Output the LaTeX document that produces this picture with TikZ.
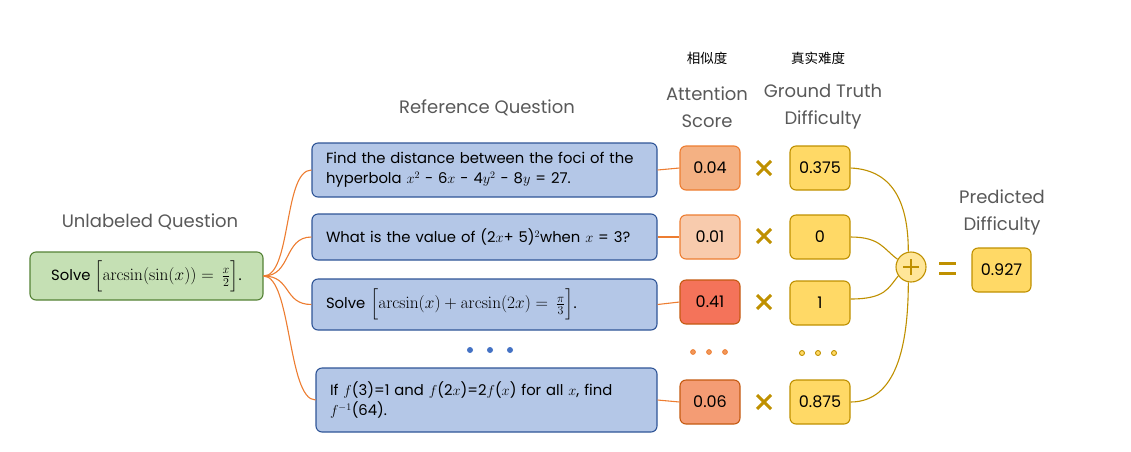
\documentclass[tikz,border=0pt]{standalone}
\usepackage{amsmath}
\usepackage[no-math]{fontspec}
\setmainfont{Poppins}
\newfontfamily\cjk{Noto Sans CJK SC}
\definecolor{bluefill}{HTML}{B4C7E7}
\definecolor{bluebd}{HTML}{2F5597}
\definecolor{bluedot}{HTML}{4472C4}
\definecolor{greenfill}{HTML}{C5E0B4}
\definecolor{greenbd}{HTML}{548235}
\definecolor{orangeln}{HTML}{ED7D31}
\definecolor{orangedk}{HTML}{C55A11}
\definecolor{attA}{HTML}{F4B183}
\definecolor{attB}{HTML}{F8CBAD}
\definecolor{attC}{HTML}{F4735A}
\definecolor{attD}{HTML}{F49C74}
\definecolor{gtfill}{HTML}{FFD966}
\definecolor{gtbd}{HTML}{BF9000}
\definecolor{plusfill}{HTML}{FFE699}
\definecolor{labelgray}{HTML}{595959}
\newcommand{\bigmath}[1]{{\fontsize{16.5}{20}\selectfont$#1$}}
\begin{document}
\begin{tikzpicture}[x=1pt,y=-1pt,
  qbox/.style={rounded corners=6pt, draw=bluebd, fill=bluefill, line width=1.1pt,
    align=left, inner xsep=14pt, inner ysep=0pt, font=\fontsize{14.8}{20}\selectfont},
  gbox/.style={rounded corners=6pt, draw=greenbd, fill=greenfill, line width=1.1pt,
    align=center, minimum width=233pt, minimum height=48pt, inner sep=0pt,
    font=\fontsize{14.8}{20}\selectfont},
  attbox/.style={rounded corners=6pt, draw=orangeln, line width=1.1pt,
    minimum width=60pt, minimum height=44pt, inner sep=0pt, font=\fontsize{16}{18}\selectfont},
  gtbox/.style={rounded corners=6pt, draw=gtbd, fill=gtfill, line width=1.1pt,
    minimum width=60pt, minimum height=44pt, inner sep=0pt, font=\fontsize{16}{18}\selectfont},
  lbl/.style={text=labelgray, font=\fontsize{18}{27}\selectfont, align=center},
  cn/.style={font=\cjk\fontsize{13.5}{15}\selectfont},
  oline/.style={draw=orangeln, line width=1.1pt},
  gline/.style={draw=gtbd, line width=1.1pt},
  cross/.style={draw=gtbd, line width=3pt}
]
\useasboundingbox (0,0) rectangle (1131,451);

% labels
\node[lbl] (lu) at (150,222) {Unlabeled Question};
\node[lbl] (lr) at (487,108) {Reference Question};
\node[lbl] (la) at (707,107) {Attention\\Score};
\node[lbl] (lg) at (823,107) {Ground Truth\\Difficulty};
\node[lbl] (lp) at (1002,212) {Predicted\\Difficulty};
\node[cn] (ca) at (707,58) {相似度};
\node[cn] (cg) at (818,58) {真实难度};

% unlabeled question
\node[gbox] (g) at (146.5,276) {Solve \bigmath{\Bigl[\arcsin(\sin(x)) = \,\frac{x}{2}\Bigr]}.};

% reference questions
\node[qbox, text width=317pt, minimum height=54pt] (b1) at (484.5,170)
  {Find the distance between the foci of the\\hyperbola $x^2$ - 6$x$ - 4$y^2$ - 8$y$ = 27.};
\node[qbox, text width=317pt, minimum height=46pt] (b2) at (484.5,237)
  {What is the value of (2$x$+ 5)$^2$when $x$ = 3?};
\node[qbox, text width=317pt, minimum height=51pt] (b3) at (484.5,304.5)
  {Solve \bigmath{\Bigl[\arcsin(x)+\arcsin(2x) = \,\frac{\pi}{3}\Bigr]}.};
\node[qbox, text width=313pt, minimum height=64pt] (b4) at (486.5,400)
  {If $f$(3)=1 and $f$(2$x$)=2$f$($x$) for all $x$, find\\$f^{-1}$(64).};

% attention scores
\node[attbox, fill=attA] (a1) at (710,168) {0.04};
\node[attbox, fill=attB] (a2) at (710,237) {0.01};
\node[attbox, fill=attC, draw=orangedk] (a3) at (710,302) {0.41};
\node[attbox, fill=attD, draw=orangedk] (a4) at (710,402) {0.06};

% ground truth
\node[gtbox] (t1) at (820,168) {0.375};
\node[gtbox] (t2) at (820,237) {0};
\node[gtbox] (t3) at (820,303) {1};
\node[gtbox] (t4) at (820,402) {0.875};

% sum and result
\node[circle, draw=gtbd, fill=plusfill, line width=1.1pt, minimum size=30pt, inner sep=0pt] (p) at (911,267) {};
\draw[gtbd, line width=1.6pt] (p.center) ++(-8,0) -- ++(16,0);
\draw[gtbd, line width=1.6pt] (p.center) ++(0,-8) -- ++(0,16);
\node[gtbox, minimum width=59pt] (r) at (1001.5,270) {0.927};

% connectors
\foreach \b in {b1,b2,b3,b4}
  \draw[oline] (g.east) .. controls +(28,0) and +(-28,0) .. (\b.west);
\draw[oline] (b1.east) -- (a1.west);
\draw[oline] (b2.east) -- (a2.west);
\draw[oline] (b3.east) -- (a3.west);
\draw[oline] (b4.east) -- (a4.west);

\draw[gline] (t1.east) .. controls +(45,2) and +(0,-45) .. (p.100);
\draw[gline] (t2.east) .. controls +(30,0) and +(-14,-10) .. (p.150);
\draw[gline] ([yshift=4pt]t3.east) .. controls +(35,0) and +(-10,12) .. (p.215);
\draw[gline] (t4.east) .. controls +(45,0) and +(0,65) .. (p.260);

% multiplication signs
\foreach \yy in {168,236,302,402}{
  \draw[cross] (757,\yy-7) -- (771,\yy+7);
  \draw[cross] (757,\yy+7) -- (771,\yy-7);
}
% equals sign
\draw[cross] (939,263) -- (956,263);
\draw[cross] (939,273) -- (956,273);

% ellipsis dots
\foreach \xx in {470,490,510}
  \fill[bluedot] (\xx,350) circle (3pt);
\foreach \xx in {693,709,725}
  \filldraw[fill=orangeln!80, draw=orangeln, line width=0.8pt] (\xx,352) circle (2.4pt);
\foreach \xx in {802,818,834}
  \filldraw[fill=gtfill, draw=gtbd, line width=0.9pt] (\xx,353) circle (2.5pt);
\end{tikzpicture}
\end{document}
